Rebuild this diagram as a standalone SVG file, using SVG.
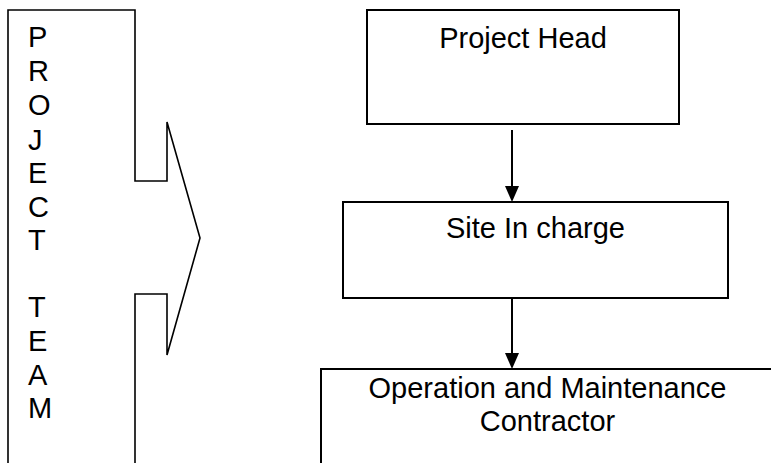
<svg xmlns="http://www.w3.org/2000/svg" width="771" height="463" viewBox="0 0 771 463">
  <style>
    .shape { fill: #ffffff; stroke: #000000; stroke-width: 2; }
    .callout { fill: #ffffff; stroke: #000000; stroke-width: 1.6; stroke-linejoin: miter; }
    .label { font-family: "Liberation Sans", Arial, sans-serif; font-size: 29px; fill: #000000; }
    .mid { text-anchor: middle; }
    .stem { stroke: #000000; stroke-width: 2; fill: none; }
    .head { fill: #000000; stroke: none; }
  </style>
  <rect width="771" height="463" fill="#ffffff"/>

  <!-- Right-arrow callout carrying the vertical team label -->
  <g id="project-team">
    <path class="callout" d="M8,470 L8,10 L135,10 L135,181 L167,181 L167,122 L200,238 L167,355 L167,294 L135,294 L135,470"/>
    <g class="label">
      <text x="28" y="47">P</text>
      <text x="28" y="81">R</text>
      <text x="28" y="115">O</text>
      <text x="28" y="150">J</text>
      <text x="28" y="183">E</text>
      <text x="28" y="217">C</text>
      <text x="28" y="250">T</text>
      <text x="28" y="317">T</text>
      <text x="28" y="351">E</text>
      <text x="28" y="385">A</text>
      <text x="28" y="418">M</text>
    </g>
  </g>

  <g id="project-head">
    <rect class="shape" x="367" y="10" width="312" height="114"/>
    <text class="label mid" x="523" y="48">Project Head</text>
  </g>

  <g id="site-in-charge">
    <rect class="shape" x="343" y="202" width="385" height="96"/>
    <text class="label mid" x="535.5" y="238">Site In charge</text>
  </g>

  <g id="om-contractor">
    <rect class="shape" x="321" y="369" width="470" height="110"/>
    <text class="label mid" x="547.5" y="398">Operation and Maintenance</text>
    <text class="label mid" x="547.5" y="431">Contractor</text>
  </g>

  <!-- Reporting lines -->
  <g id="connectors">
    <line class="stem" x1="512" y1="130" x2="512" y2="188"/>
    <path class="head" d="M505,186 L519,186 L512,202 Z"/>
    <line class="stem" x1="512" y1="298" x2="512" y2="355"/>
    <path class="head" d="M505,353 L519,353 L512,369 Z"/>
  </g>
</svg>
